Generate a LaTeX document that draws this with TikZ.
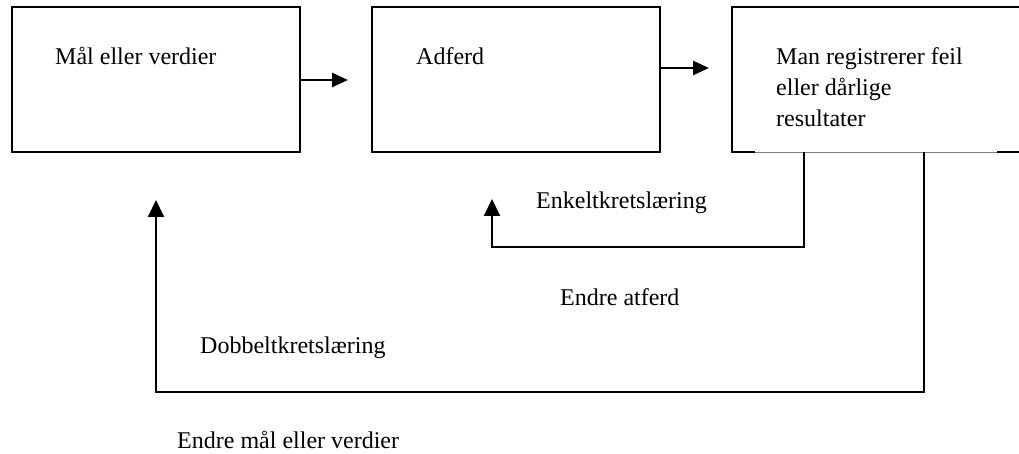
\documentclass[tikz,border=0pt]{standalone}
\usepackage{fontspec}
\setmainfont{Liberation Serif}
\usetikzlibrary{arrows.meta}
\begin{document}
\begin{tikzpicture}[x=1pt,y=-1pt,
  box/.style={draw, line width=1.8pt, minimum width=288pt, minimum height=145pt,
    anchor=north west, inner sep=0pt, outer sep=0pt},
  txt/.style={anchor=base west, inner sep=0pt, font=\fontsize{24}{30}\selectfont},
  arr/.style={line width=2.6pt, -{Triangle[length=16pt,width=14pt]}},
  loop/.style={line width=2pt, -{Triangle[length=17pt,width=16pt]}}]
\useasboundingbox (0,0) rectangle (1019,454);
\clip (0,0) rectangle (1019,454);

% the three boxes (the last one runs past the right edge)
\node[box] (goal) at (12,7) {};
\node[box] (act) at (372,7) {};
\node[box, minimum width=300pt] (res) at (732,7) {};
\draw[white, line width=3pt] (755,152) -- (997,152);
\draw[gray, line width=0.9pt] (755,152) -- (997,152);

% box texts
\node[txt] (tgoal) at (55,65) {Mål eller verdier};
\node[txt] (tact) at (416,65) {Adferd};
\node[txt, align=left, anchor=north west, font=\fontsize{24}{31}\selectfont] (tres) at (776,47)
  {Man registrerer feil\\eller dårlige\\resultater};

% forward arrows
\coordinate (h1) at (348,80);
\coordinate (h2) at (709,68);
\draw[arr] (goal.east |- h1) -- (h1);
\draw[arr] (act.east |- h2) -- (h2);

% single-loop feedback
\coordinate (k1) at (804,247);
\coordinate (t1) at (492,199);
\draw[loop] (res.south -| k1) -- (k1) -| (t1);

% double-loop feedback
\coordinate (k2) at (924,392);
\coordinate (t2) at (156,200);
\draw[loop] (res.south -| k2) -- (k2) -| (t2);

% loop labels
\node[txt] (lsingle) at (536,209) {Enkeltkretslæring};
\node[txt] (lchange) at (560,305) {Endre atferd};
\node[txt] (ldouble) at (200,353) {Dobbeltkretslæring};
\node[txt] (lgoal) at (177,448) {Endre mål eller verdier};
\end{tikzpicture}
\end{document}
